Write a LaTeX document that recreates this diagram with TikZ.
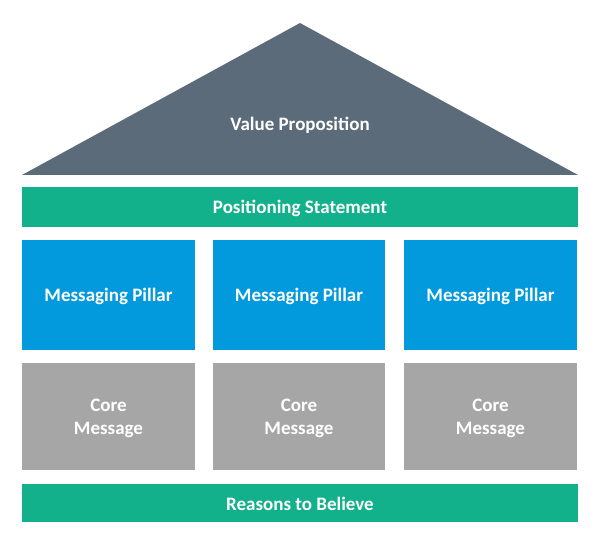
\documentclass[tikz,border=0pt]{standalone}
\usepackage{fontspec}
\setmainfont{Carlito}
\definecolor{roofc}{HTML}{5B6B79}
\definecolor{greenc}{HTML}{13B18B}
\definecolor{bluec}{HTML}{0299DD}
\definecolor{grayc}{HTML}{A6A6A6}
\begin{document}
\begin{tikzpicture}[x=1pt,y=1pt,
  lbl/.style={text=white,font=\fontsize{19}{23}\selectfont\bfseries,align=center},
  bar/.style={fill=greenc,draw=none},
  pillar/.style={fill=bluec,draw=none},
  core/.style={fill=grayc,draw=none}]
\useasboundingbox (0,0) rectangle (600,542);
\fill[roofc] (22,367) -- (578,367) -- (300,519) -- cycle;
\node[lbl] (vp) at (300,417) {Value Proposition};
\fill[bar] (22,315) rectangle (578,355);
\node[lbl] (ps) at (300,334) {Positioning Statement};
\foreach \i/\a/\b in {1/22/195,2/213/385,3/404/577}{
  \fill[pillar] (\a,192) rectangle (\b,302);
  \node[lbl] (mp\i) at ({(\a+\b)/2},246) {Messaging Pillar};
  \fill[core] (\a,72) rectangle (\b,179);
  \node[lbl] (cm\i) at ({(\a+\b)/2},124) {Core\\Message};
}
\fill[bar] (22,20) rectangle (578,58);
\node[lbl] (rb) at (300,38) {Reasons to Believe};
\end{tikzpicture}
\end{document}
